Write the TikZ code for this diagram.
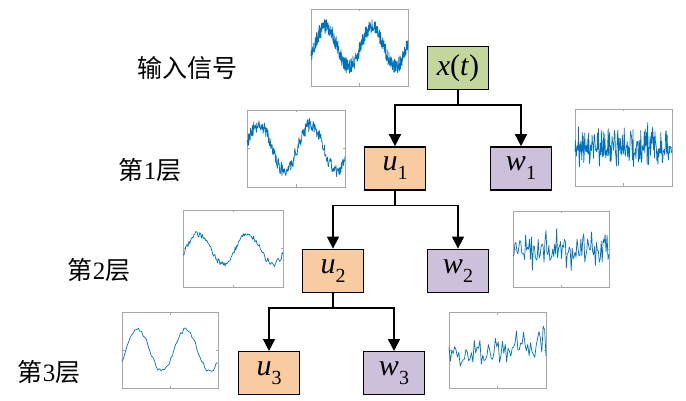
\documentclass[tikz,border=0pt]{standalone}
\usepackage{fontspec}
\setmainfont{Liberation Serif}
\newfontfamily\cjk{Noto Sans CJK SC}
\usetikzlibrary{arrows.meta,positioning}

\definecolor{xfill}{RGB}{196,215,155}
\definecolor{ufill}{RGB}{248,203,160}
\definecolor{wfill}{RGB}{204,192,218}
\definecolor{sigblue}{RGB}{0,114,189}

\newcommand{\comp}[2]{\textit{#1}\raisebox{-0.3em}{\fontsize{20}{20}\selectfont #2}}
\newcommand{\axframe}[2]{%
  \draw[axline] (0,0) rectangle (#1,#2);
  \draw[axline] (#1/2,0) -- ++(0,2.5) (#1/2,#2) -- ++(0,-2.5)
                (0,#2/2) -- ++(2.5,0) (#1,#2/2) -- ++(-2.5,0);}

\begin{document}
\begin{tikzpicture}[x=1pt,y=-1pt,>={Triangle[length=12pt,width=12pt]},
                    line width=1.4pt]
  \tikzstyle{blk}=[draw=black,line width=1.4pt,minimum width=61pt,
                   minimum height=43pt,inner sep=0pt,font=\fontsize{30}{33}\selectfont]
  \tikzstyle{xbox}=[blk,fill=xfill]
  \tikzstyle{ubox}=[blk,fill=ufill]
  \tikzstyle{wbox}=[blk,fill=wfill]
  \tikzstyle{axline}=[draw=gray!70,line width=0.8pt]
  \tikzstyle{sig}=[draw=sigblue,line width=0.7pt,line join=round]
  \tikzstyle{lab}=[font=\fontsize{25}{28}\selectfont]

  \useasboundingbox (0,0) rectangle (686,401);

  % decomposition tree
  \node[xbox] (x) at (458,68) {\textit{x}(\textit{t})};
  \node[ubox,below=56pt of x,xshift=-63pt]  (u1) {\comp{u}{1}};
  \node[wbox,below=56pt of x,xshift=63pt]   (w1) {\comp{w}{1}};
  \node[ubox,below=58pt of u1,xshift=-62pt] (u2) {\comp{u}{2}};
  \node[wbox,below=58pt of u1,xshift=63pt]  (w2) {\comp{w}{2}};
  \node[ubox,below=58pt of u2,xshift=-64pt] (u3) {\comp{u}{3}};
  \node[wbox,below=58pt of u2,xshift=61pt]  (w3) {\comp{w}{3}};

  \path (x.south) ++(0,15) coordinate (j0);
  \path (u1.south) ++(0,15) coordinate (j1);
  \path (u2.south) ++(0,15) coordinate (j2);
  \draw[->] (x.south) -- (j0) -| (u1);
  \draw[->] (j0) -| (w1);
  \draw[->] (u1.south) -- (j1) -| (u2);
  \draw[->] (j1) -| (w2);
  \draw[->] (u2.south) -- (j2) -| (u3);
  \draw[->] (j2) -| (w3);

  % level labels
  \node[lab] (l0) at (187,68)  {{\cjk 输入信号}};
  \node[lab] (l1) at (150,170) {{\cjk 第}1{\cjk 层}};
  \node[lab] (l2) at (99,270)  {{\cjk 第}2{\cjk 层}};
  \node[lab] (l3) at (49,372)  {{\cjk 第}3{\cjk 层}};

  % waveforms
  \pgfmathsetseed{7}
  \begin{scope}[shift={(311,9)}]
    \axframe{97}{77}
    \draw[sig] plot[domain=0:97,samples=400] (\x,{37.5-20*sin(7.732*\x-22.5)+7.5*rand});
  \end{scope}
  \begin{scope}[shift={(247,110)}]
    \axframe{98}{77}
    \draw[sig] plot[domain=0:98,samples=220] (\x,{37.5-23*sin(6.939*\x+8)+7*rand});
  \end{scope}
  \begin{scope}[shift={(575,109)}]
    \axframe{97}{77}
    \draw[sig] plot[domain=0:97,samples=200] (\x,{38+13*(rand+rand)});
  \end{scope}
  \begin{scope}[shift={(183,210)}]
    \axframe{100}{77}
    \draw[sig] plot[domain=0:100,samples=120] (\x,{39-15*sin(7.2*\x-18)+3*rand});
  \end{scope}
  \begin{scope}[shift={(513,211)}]
    \axframe{96}{76}
    \draw[sig] plot[domain=0:96,samples=100] (\x,{38+12*(rand+rand)});
  \end{scope}
  \begin{scope}[shift={(122,312)}]
    \axframe{96}{76}
    \draw[sig] plot[domain=0:96,samples=60] (\x,{38.5-21*sin(7.5*\x-30)+2*rand});
  \end{scope}
  \begin{scope}[shift={(449,312)}]
    \axframe{97}{76}
    \draw[sig] plot[domain=0:97,samples=70] (\x,{45-0.14*\x+10*(rand+rand)});
  \end{scope}
\end{tikzpicture}
\end{document}
